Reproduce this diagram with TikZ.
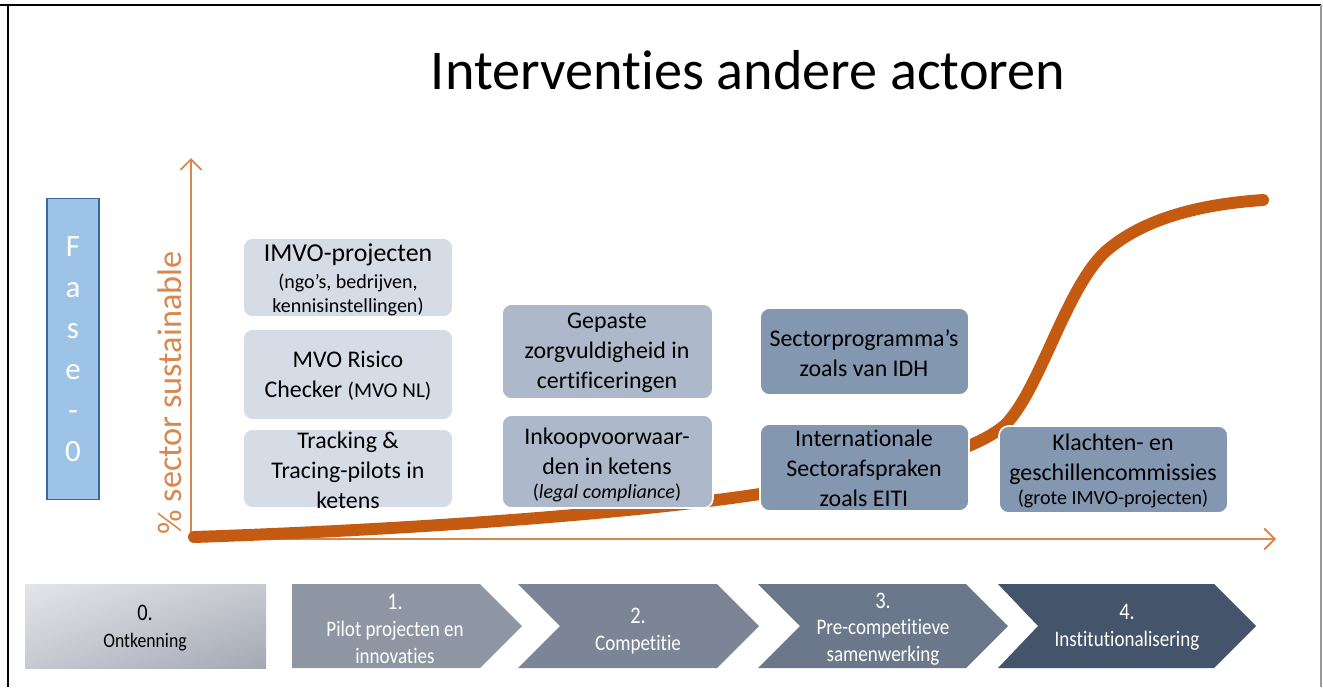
\documentclass[tikz,border=0pt]{standalone}
\usepackage{fontspec}
\setmainfont{Carlito}[Ligatures=NoCommon]
\newfontfamily\smalfont[FakeStretch=0.86, Ligatures=NoCommon]{Carlito}
\usetikzlibrary{arrows.meta,shadings}
\definecolor{oranje}{HTML}{C55A11}
\definecolor{asoranje}{HTML}{D9874E}
\definecolor{faseblauw}{HTML}{9DC3E6}
\definecolor{faserand}{HTML}{3B67A0}
\definecolor{blok1}{HTML}{D6DCE5}
\definecolor{blok2}{HTML}{ADB9CA}
\definecolor{blok3}{HTML}{8497B0}
\definecolor{grijs1}{HTML}{E4E5E9}
\definecolor{grijs2}{HTML}{C6C9D0}
\definecolor{grijs3}{HTML}{A4A8B3}
\definecolor{pijl1}{HTML}{8D96A2}
\definecolor{pijl2}{HTML}{7B8595}
\definecolor{pijl3}{HTML}{6B778A}
\definecolor{pijl4}{HTML}{44546A}
\def\chevron[#1](#2:#3:#4){\fill[#1] (#2,584) -- (#3,584) -- (#3+42,626) -- (#3,668) -- (#2,668) -- (#2+#4,626) -- cycle;}
\def\groot{\fontsize{13.6}{17}\selectfont}
\def\klein{\fontsize{11.4}{12.6}\selectfont}
\def\cijfer{\fontsize{13.5}{14}\selectfont}

\begin{document}
\begin{tikzpicture}[x=0.02cm, y=-0.02cm,
		blok/.style={rounded corners=5.5pt, draw=white, line width=0.9pt},
		bloktekst/.style={align=center, text=black, font=\groot},
		pijltekst/.style={align=center, text=white, font=\smalfont\fontsize{12.6}{15.2}\selectfont}]
		%%%%% START %%%%%
		
		\useasboundingbox (0,0) rectangle (1323,687);
		\draw[line width=0.4mm] (0,5) -- (1321,5);
		\draw[line width=0.4mm] (8,5) -- (8,687);
		\draw[line width=0.3mm, color=black!40] (1321,5) -- (1321,687);
		
		\node[anchor=base, font=\fontsize{32}{38}\selectfont] (titel) at (748,89) {Interventies andere actoren};
		
		\node[fill=faseblauw, draw=faserand, line width=0.6pt, minimum width=1.04cm, minimum height=6.02cm, text=white, align=center, font=\fontsize{17.6}{23.4}\selectfont] (fase) at (73,349) {F\\a\\s\\e\\-\\0};
		
		% assen
		\coordinate (oorsprong) at (191,539);
		\coordinate (ytop) at (191,158);
		\coordinate (xeind) at (1276,539);
		\draw[asoranje, line width=1.1pt, -{Straight Barb[length=6pt, width=12pt]}] (oorsprong) -- (ytop);
		\draw[asoranje, line width=1.1pt, -{Straight Barb[length=6pt, width=12pt]}] (oorsprong) -- (xeind);
		\node[rotate=90, text=asoranje, font=\fontsize{19.5}{22}\selectfont] (ylabel) at (170,393) {\% sector sustainable};
		
		\draw[oranje, line width=6.8pt, line cap=round] (194,537) .. controls (400,530) and (620,515) .. (760,494) .. controls (880,476) and (970,455) .. (1005,425) .. controls (1040,390) and (1065,290) .. (1105,252) .. controls (1150,212) and (1220,203) .. (1263,200);
		
		% blokken
		\draw[blok, fill=blok1] (243,238) rectangle (453,317);
		\draw[blok, fill=blok1] (243,329) rectangle (453,420);
		\draw[blok, fill=blok1] (243,429) rectangle (453,508);
		\draw[blok, fill=blok2] (502,304) rectangle (713,399);
		\draw[blok, fill=blok2] (502,415) rectangle (713,508);
		\draw[blok, fill=blok3] (760,308) rectangle (969,395);
		\draw[blok, fill=blok3] (760,424) rectangle (969,511);
		\draw[blok, fill=blok3] (999,426) rectangle (1228,513);
		
		\node[bloktekst] (imvo) at (348,280) {{\fontsize{14.7}{16}\selectfont IMVO-projecten}\\[-1.5pt]{\klein (ngo’s, bedrijven,}\\[-3.5pt]{\klein kennisinstellingen)}};
		\node[bloktekst] (risico) at (348,376) {MVO Risico\\Checker {\fontsize{12}{14}\selectfont (MVO NL)}};
		\node[bloktekst] (tracking) at (348,470) {Tracking \&\\Tracing-pilots in\\ketens};
		\node[bloktekst] (gepaste) at (607,353) {Gepaste\\zorgvuldigheid in\\certificeringen};
		\node[bloktekst] (inkoop) at (607,465) {Inkoopvoorwaar-\\den in ketens\\[-3pt]{\klein (\textit{legal compliance})}};
		\node[bloktekst] (sector) at (864,353) {Sectorprogramma’s\\zoals van IDH};
		\node[bloktekst] (eiti) at (864,468) {Internationale\\Sectorafspraken\\zoals EITI};
		\node[bloktekst] (klachten) at (1113,471) {Klachten- en\\geschillencommissies\\[-3pt]{\klein (grote IMVO-projecten)}};
		
		% fasen
		\shade[upper left=grijs1, upper right=grijs2, lower left=grijs2, lower right=grijs3] (25,584) rectangle (266,668);
		\chevron[pijl1](292:480:0)
		\chevron[pijl2](518:717:42)
		\chevron[pijl3](758:966:42)
		\chevron[pijl4](998:1214:40)
		
		\node[pijltekst, text=black, font=\smalfont\fontsize{11.7}{15.6}\selectfont] (ontkenning) at (145,628) {{\cijfer 0.}\\Ontkenning};
		\node[pijltekst] (pilot) at (395,629) {{\cijfer 1.}\\Pilot projecten en\\innovaties};
		\node[pijltekst] (competitie) at (638,631) {{\cijfer 2.}\\Competitie};
		\node[pijltekst] (precomp) at (883,629) {{\cijfer 3.}\\Pre-competitieve\\samenwerking};
		\node[pijltekst] (instit) at (1127,627) {{\cijfer 4.}\\Institutionalisering};
		
		%%%%% END %%%%%
\end{tikzpicture}
\end{document}
